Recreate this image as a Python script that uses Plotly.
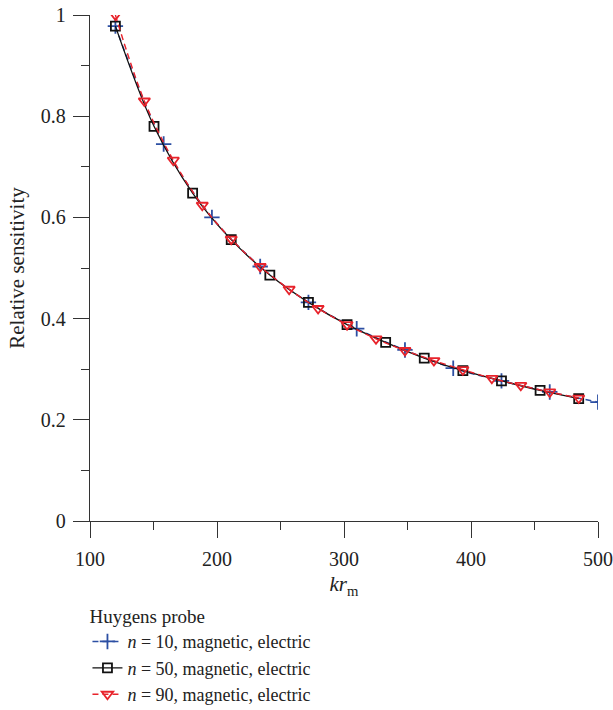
import plotly.graph_objects as go

# n = 10 (blue, plus markers)
kr_n10 = [120, 158, 196, 234, 272, 310, 348, 386, 424, 462, 500]
s_n10 = [0.978, 0.745, 0.600, 0.503, 0.432, 0.380, 0.338, 0.302, 0.277, 0.255, 0.235]

# n = 50 (black, square markers)
kr_n50 = [120, 150.4, 180.8, 211.2, 241.6, 272, 302.4, 332.8, 363.2, 393.6, 424, 454.4, 484.8]
s_n50 = [0.978, 0.780, 0.648, 0.556, 0.486, 0.432, 0.388, 0.353, 0.322, 0.297, 0.277, 0.258, 0.242]

# n = 90 (red, down-triangle markers)
kr_n90 = [120, 142.8, 165.6, 188.4, 211.2, 234, 256.8, 279.6, 302.4, 325.2, 348, 370.8,
          393.6, 416.4, 439.2, 462, 484.8]
s_n90 = [1.000, 0.830, 0.713, 0.624, 0.557, 0.503, 0.458, 0.420, 0.388, 0.360, 0.337, 0.317,
         0.299, 0.282, 0.268, 0.255, 0.243]

names = ["<i>n</i> = 10, magnetic, electric",
         "<i>n</i> = 50, magnetic, electric",
         "<i>n</i> = 90, magnetic, electric"]

x_ticks = [100, 200, 300, 400, 500]
y_ticks = [0, 0.2, 0.4, 0.6, 0.8, 1]
y_ticklabels = ["0", "0.2", "0.4", "0.6", "0.8", "1"]

BLUE = "#2c4fa3"
RED = "#e8232b"
BLACK = "#111111"
FONT = "Liberation Serif"
TXT = "#222222"

fig = go.Figure()
fig.add_trace(go.Scatter(
    x=kr_n10, y=s_n10, name=names[0], mode="lines+markers",
    line=dict(color=BLUE, width=1.4, dash="6px,4px", shape="spline"),
    marker=dict(symbol="cross-thin-open", size=11, line=dict(color=BLUE, width=1.8), color=BLUE),
))
fig.add_trace(go.Scatter(
    x=kr_n50, y=s_n50, name=names[1], mode="lines+markers",
    line=dict(color=BLACK, width=1.3, shape="spline"),
    marker=dict(symbol="square-open", size=9, line=dict(color=BLACK, width=1.8), color=BLACK),
))
fig.add_trace(go.Scatter(
    x=kr_n90, y=s_n90, name=names[2], mode="lines+markers",
    line=dict(color=RED, width=1.4, dash="6px,4px", shape="spline"),
    marker=dict(symbol="triangle-down-open", size=10, line=dict(color=RED, width=1.8), color=RED),
))

axis_common = dict(
    showline=True, linecolor="#333333", linewidth=1.3, mirror=False,
    ticks="outside", ticklen=16, tickwidth=1.3, tickcolor="#333333",
    showgrid=False, zeroline=False, automargin=False,
    tickfont=dict(family=FONT, size=20, color=TXT),
)

fig.update_xaxes(
    range=[100, 500], tickvals=x_ticks, ticklabelstandoff=4,
    title=dict(text="<i>kr</i><sub>m</sub>", font=dict(family=FONT, size=21, color=TXT), standoff=12),
    minor=dict(ticks="outside", ticklen=8, tickwidth=1.3, tickcolor="#333333", dtick=50, showgrid=False),
    **axis_common,
)
fig.update_yaxes(
    range=[0, 1], tickvals=y_ticks, ticktext=y_ticklabels, ticklabelstandoff=3,
    title=dict(text="Relative sensitivity", font=dict(family=FONT, size=21, color=TXT), standoff=10),
    minor=dict(ticks="outside", ticklen=8, tickwidth=1.3, tickcolor="#333333", dtick=0.1, showgrid=False),
    **axis_common,
)

fig.update_layout(
    width=613, height=710,
    margin=dict(l=90, r=15, t=15, b=189),
    plot_bgcolor="white", paper_bgcolor="white",
    font=dict(family=FONT, size=18, color=TXT),
    legend=dict(
        title=dict(text="Huygens probe", font=dict(family=FONT, size=19)),
        x=-0.005, xanchor="left", xref="paper",
        y=0.157, yanchor="top", yref="container",
        bgcolor="rgba(0,0,0,0)", font=dict(family=FONT, size=18),
        tracegroupgap=0, itemwidth=30,
    ),
)

fig.write_html("out.html")
